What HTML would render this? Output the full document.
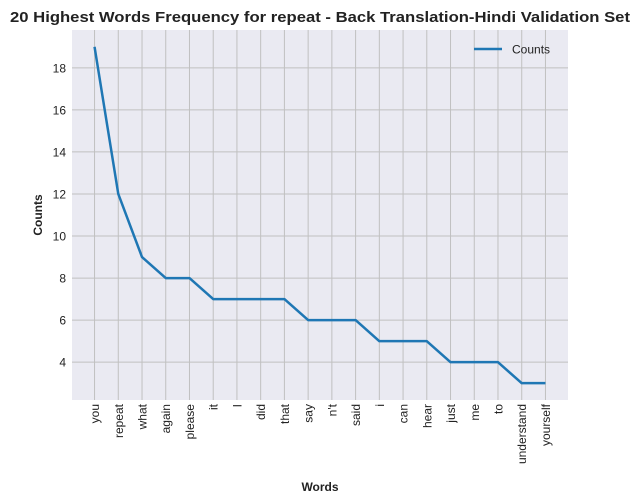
<!DOCTYPE html>
<html><head><meta charset="utf-8"><style>
body{margin:0;background:#fff;}
svg{display:block;font-family:"Liberation Sans","DejaVu Sans",sans-serif;}
</style></head><body>
<svg id="c" width="640" height="504">
<text x="10" y="22" font-size="15" font-weight="bold" fill="#222" textLength="620" lengthAdjust="spacingAndGlyphs">20 Highest Words Frequency for repeat - Back Translation-Hindi Validation Set</text>
<rect x="72" y="30" width="496" height="370" fill="#eaeaf2"/>
<g id="grid"></g><g id="xt"></g><g id="yt"></g>
<polyline id="line" fill="none" stroke="#1f77b4" stroke-width="2.5" stroke-linejoin="round"/>
<text x="320" y="491" text-anchor="middle" font-size="12" font-weight="bold" fill="#222">Words</text>
<text transform="translate(42,215) rotate(-90)" text-anchor="middle" font-size="12" font-weight="bold" fill="#222">Counts</text>
<g>
<line x1="474" y1="49" x2="502" y2="49" stroke="#1f77b4" stroke-width="2.5"/>
<text x="512" y="53.5" font-size="12" fill="#222">Counts</text>
</g>
</svg>
<script>
const words=["you","repeat","what","again","please","it","I","did","that","say","n't","said","i","can","hear","just","me","to","understand","yourself"];
const counts=[19,12,9,8,8,7,7,7,7,6,6,6,5,5,5,4,4,4,3,3];
const yTicks=[4,6,8,10,12,14,16,18];
const NS="http://www.w3.org/2000/svg";
const L=72,R=568,T=30,B=400;
const n=words.length;
const xmin=-0.95,xmax=(n-1)+0.95;
const ymn=Math.min(...counts),ymx=Math.max(...counts),pad=(ymx-ymn)*0.05;
const ymin=ymn-pad,ymax=ymx+pad;
const X=i=>L+(i-xmin)/(xmax-xmin)*(R-L);
const Y=v=>B-(v-ymin)/(ymax-ymin)*(B-T);
const grid=document.getElementById('grid'),xt=document.getElementById('xt'),yt=document.getElementById('yt');
function mk(tag,attrs,parent){const e=document.createElementNS(NS,tag);for(const k in attrs)e.setAttribute(k,attrs[k]);parent.appendChild(e);return e;}
words.forEach((w,i)=>{
  const g=mk('line',{x1:X(i),x2:X(i),y1:T,y2:B,stroke:'#c0c0c0','stroke-width':1},grid);
  
  
  const t=mk('text',{transform:`translate(${X(i)+4.5},404) rotate(-90)`,'text-anchor':'end','font-size':12,fill:'#222'},xt);
  t.textContent=w;
  
  
});
yTicks.forEach(v=>{
  const g=mk('line',{x1:L,x2:R,y1:Y(v),y2:Y(v),stroke:'#c0c0c0','stroke-width':1},grid);
  
  
  const t=mk('text',{x:L-6,y:Y(v)+4.5,'text-anchor':'end','font-size':12,fill:'#222'},yt);
  t.textContent=v;
  
  
});
document.getElementById('line').setAttribute('points',counts.map((c,i)=>X(i)+','+Y(c)).join(' '));
</script>
</body></html>
